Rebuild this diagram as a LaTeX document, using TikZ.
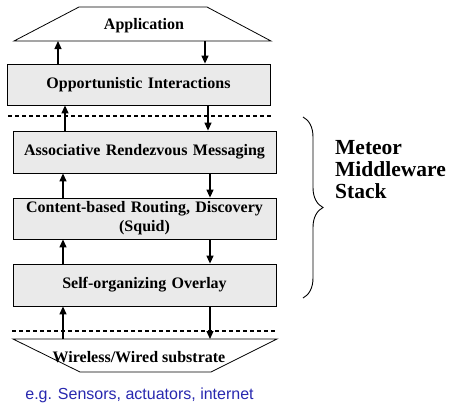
\documentclass[tikz,border=0pt]{standalone}
\usepackage{fontspec}
\setmainfont{Liberation Serif}
\newfontfamily\blufont{Liberation Sans}
\usetikzlibrary{arrows.meta,decorations.pathreplacing}

\definecolor{boxgray}{RGB}{234,234,234}
\definecolor{noteblue}{RGB}{40,40,175}

\tikzset{
  lbl/.style={font=\bfseries\fontsize{16}{19}\selectfont},
  layer/.style={lbl, draw=black, fill=boxgray, line width=0.8pt, minimum width=263pt, text width=258pt, align=center, inner sep=0pt},
  flow/.style={line width=1.2pt, -{Triangle[length=8pt,width=7pt]}},
  sep/.style={line width=1.3pt, dash pattern=on 4pt off 3pt}
}

\begin{document}
\begin{tikzpicture}[x=1pt,y=-1pt]
\useasboundingbox (0,0) rectangle (451,408);

% application and substrate
\draw[line width=0.8pt] (14,41) -- (79,7) -- (207,7) -- (271,41) -- cycle;
\node[lbl] (app) at (144,25.5) {Application};
\coordinate (appbase) at (142,41);

\draw[line width=0.8pt] (13,339) -- (277,339) -- (211,372) -- (80,372) -- cycle;
\node[lbl] (sub) at (139,357.5) {Wireless/Wired substrate};
\coordinate (subtop) at (138,339);

% the stack
\node[layer, minimum height=41pt] (opp) at (138.5,84.5) {Opportunistic Interactions};
\node[layer, minimum height=42pt] (arm) at (144.5,152) {Associative Rendezvous Messaging};
\node[layer, minimum height=41pt] (cbr) at (144.5,218.5) {Content-based Routing, Discovery\\(Squid)};
\node[layer, minimum height=42pt] (soo) at (144.5,285) {Self-organizing Overlay};

\draw[sep] (8,116) -- (272,116);
\draw[sep] (12,331) -- (277,331);

% arrows
\coordinate (a1) at (58,0);
\coordinate (b1) at (205,0);
\coordinate (a2) at (65,0);
\coordinate (b2) at (208,0);
\coordinate (a3) at (63,0);
\coordinate (b3) at (210,0);
\draw[flow] (opp.north -| a1) -- (appbase -| a1);
\draw[flow] (appbase -| b1) -- (opp.north -| b1);
\draw[flow] (arm.north -| a2) -- (opp.south -| a2);
\draw[flow] (opp.south -| b2) -- (arm.north -| b2);
\draw[flow] (cbr.north -| a3) -- (arm.south -| a3);
\draw[flow] (arm.south -| b3) -- (cbr.north -| b3);
\draw[flow] (soo.north -| a3) -- (cbr.south -| a3);
\draw[flow] (cbr.south -| b3) -- (soo.north -| b3);
\draw[flow] (subtop -| a3) -- (soo.south -| a3);
\draw[flow] (soo.south -| b3) -- (subtop -| b3);

% brace and label
\draw[line width=0.9pt, decorate, decoration={brace, amplitude=20pt}] (303,117) -- (303,298);
\node[anchor=north west, align=left, font=\bfseries\fontsize{21.5}{22}\selectfont, inner sep=0pt] (meteor) at (335,140) {Meteor\\Middleware\\Stack};

\node[font=\blufont\fontsize{16}{18}\selectfont, text=noteblue] (note) at (139.5,395) {e.g. Sensors, actuators, internet};
\end{tikzpicture}
\end{document}
